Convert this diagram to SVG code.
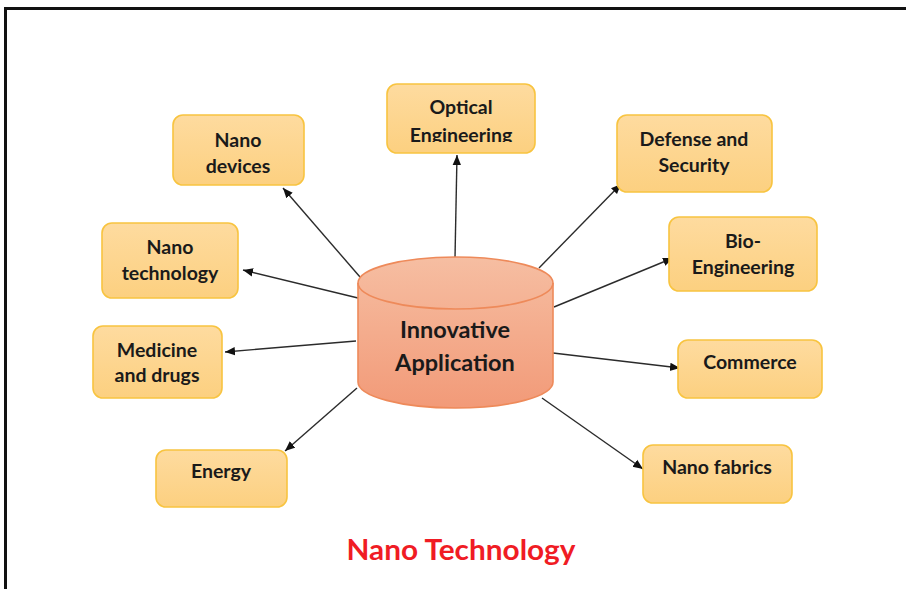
<svg xmlns="http://www.w3.org/2000/svg" width="906" height="589" viewBox="0 0 906 589">
  <style>
    .box { fill: url(#boxFill); stroke: #f8c440; stroke-width: 1.6; }
    .lbl { font-family: Lato, "Open Sans", "Liberation Sans", sans-serif; font-weight: bold; font-size: 19.5px; fill: #1a1a1a; text-anchor: middle; }
    .core { font-family: Lato, "Open Sans", "Liberation Sans", sans-serif; font-weight: bold; font-size: 23.5px; fill: #1a1a1a; text-anchor: middle; }
    .edge { stroke: #2b2b2b; stroke-width: 1.4; fill: none; marker-end: url(#arrow); }
    .title { font-family: Lato, "Open Sans", "Liberation Sans", sans-serif; font-weight: bold; font-size: 28px; fill: #f01c24; text-anchor: middle; }
  </style>
  <defs>
    <linearGradient id="boxFill" x1="0" y1="0" x2="0" y2="1">
      <stop offset="0" stop-color="#fedb9f"/>
      <stop offset="1" stop-color="#fcd080"/>
    </linearGradient>
    <linearGradient id="cylFill" x1="0" y1="0" x2="0" y2="1">
      <stop offset="0" stop-color="#f6bea2"/>
      <stop offset="1" stop-color="#f29a78"/>
    </linearGradient>
    <marker id="arrow" viewBox="0 0 10 10" refX="10" refY="5" markerWidth="10" markerHeight="10" markerUnits="userSpaceOnUse" orient="auto">
      <path d="M0,0.8 L10,5 L0,9.2 Z" fill="#111"/>
    </marker>
    <clipPath id="opticalClip">
      <rect x="387" y="84" width="148" height="58"/>
    </clipPath>
  </defs>

  <!-- frame -->
  <path d="M5.5,589 V8.5 H906" fill="none" stroke="#111" stroke-width="3"/>

  <!-- connectors -->
  <g id="connectors">
    <line class="edge" x1="360" y1="277" x2="283" y2="188"/>
    <line class="edge" x1="455" y1="258" x2="457" y2="155"/>
    <line class="edge" x1="539" y1="268" x2="621" y2="184"/>
    <line class="edge" x1="554" y1="307" x2="673" y2="258"/>
    <line class="edge" x1="358" y1="298" x2="243" y2="270"/>
    <line class="edge" x1="356" y1="341" x2="225" y2="352"/>
    <line class="edge" x1="357" y1="388" x2="285" y2="451"/>
    <line class="edge" x1="553" y1="353" x2="680" y2="368"/>
    <line class="edge" x1="542" y1="398" x2="643" y2="469"/>
  </g>

  <!-- central cylinder -->
  <g id="innovative-application">
    <path d="M358,283 V382 A97.5,26 0 0 0 553,382 V283 A97.5,26 0 0 0 358,283 Z" fill="url(#cylFill)" stroke="#ee8a5a" stroke-width="1.6"/>
    <path d="M358,283 A97.5,26 0 0 0 553,283" fill="none" stroke="#ee8a5a" stroke-width="1.6"/>
    <text class="core" x="455" y="338">Innovative</text>
    <text class="core" x="455" y="371">Application</text>
  </g>

  <g id="nano-devices">
    <rect class="box" x="173" y="115" width="131" height="70" rx="10"/>
    <text class="lbl" x="238" y="147">Nano</text>
    <text class="lbl" x="238" y="173">devices</text>
  </g>

  <g id="optical-engineering">
    <rect class="box" x="387" y="84" width="148" height="69" rx="10"/>
    <g clip-path="url(#opticalClip)">
      <text class="lbl" x="461" y="114">Optical</text>
      <text class="lbl" x="461" y="142">Engineering</text>
    </g>
  </g>

  <g id="defense-security">
    <rect class="box" x="617" y="115" width="155" height="77" rx="10"/>
    <text class="lbl" x="694" y="146">Defense and</text>
    <text class="lbl" x="694" y="172">Security</text>
  </g>

  <g id="bio-engineering">
    <rect class="box" x="669" y="217" width="148" height="74" rx="10"/>
    <text class="lbl" x="743" y="248">Bio-</text>
    <text class="lbl" x="743" y="274">Engineering</text>
  </g>

  <g id="nano-technology">
    <rect class="box" x="102" y="223" width="136" height="75" rx="10"/>
    <text class="lbl" x="170" y="254">Nano</text>
    <text class="lbl" x="170" y="280">technology</text>
  </g>

  <g id="medicine-drugs">
    <rect class="box" x="93" y="326" width="129" height="72" rx="10"/>
    <text class="lbl" x="157" y="357">Medicine</text>
    <text class="lbl" x="157" y="382">and drugs</text>
  </g>

  <g id="energy">
    <rect class="box" x="156" y="450" width="131" height="57" rx="10"/>
    <text class="lbl" x="221" y="478">Energy</text>
  </g>

  <g id="commerce">
    <rect class="box" x="678" y="340" width="144" height="58" rx="10"/>
    <text class="lbl" x="750" y="369">Commerce</text>
  </g>

  <g id="nano-fabrics">
    <rect class="box" x="643" y="445" width="149" height="58" rx="10"/>
    <text class="lbl" x="717" y="474">Nano fabrics</text>
  </g>

  <text class="title" x="461" y="560" textLength="229" lengthAdjust="spacingAndGlyphs">Nano Technology</text>
</svg>
